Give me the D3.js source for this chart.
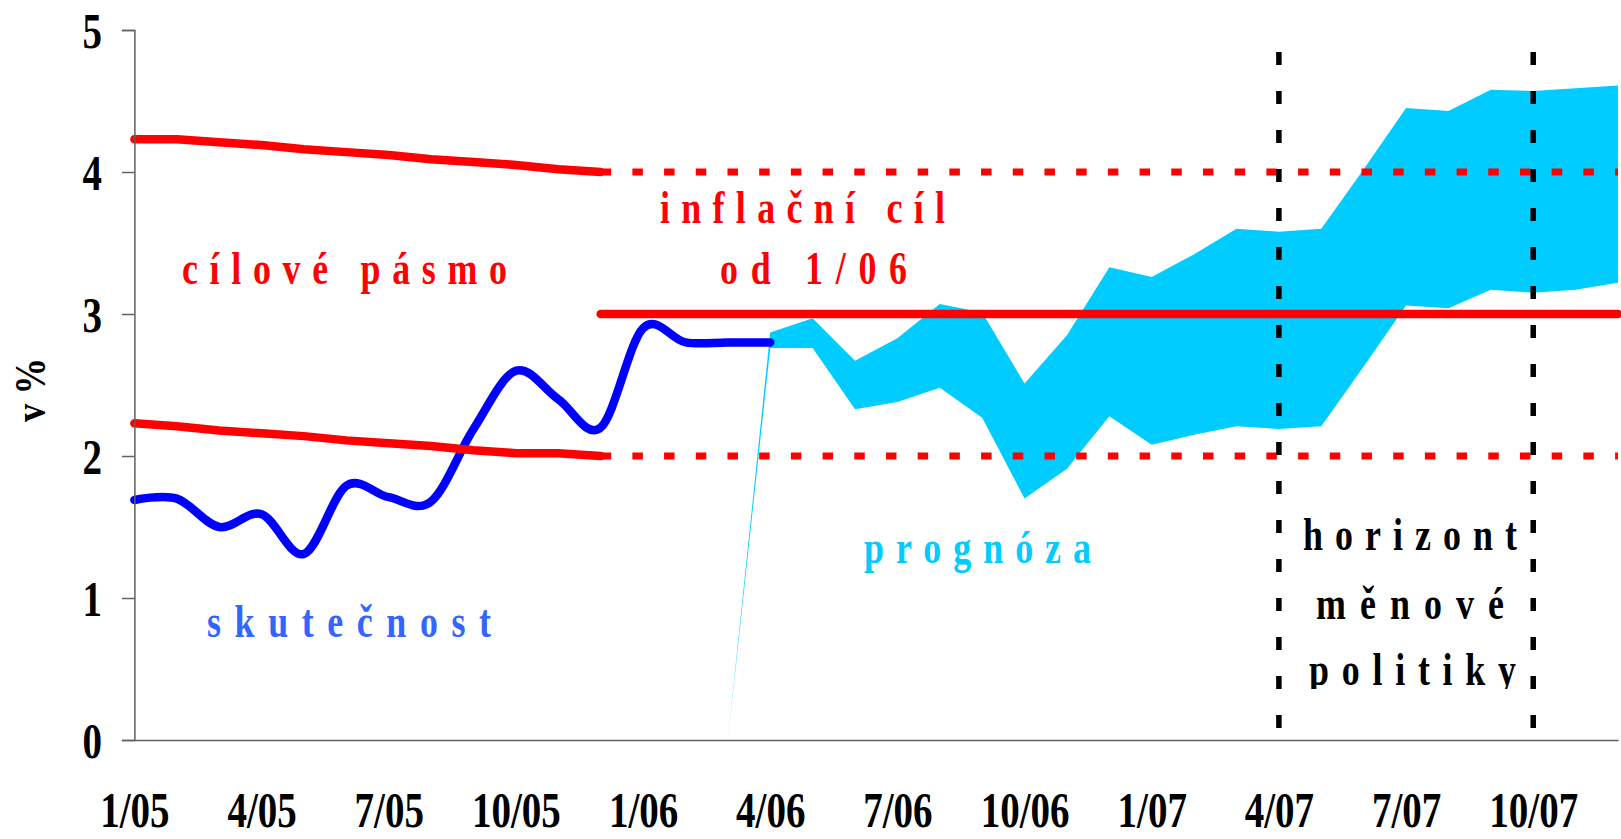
<!DOCTYPE html>
<html>
<head>
<meta charset="utf-8">
<script src="https://cdn.jsdelivr.net/npm/d3@7"></script>
<style>
  body { margin: 0; background: #fff; }
  svg { display: block; }
  text { font-family: "Liberation Serif", "Times New Roman", serif; font-weight: bold; }
</style>
</head>
<body>
<svg id="chart" width="1621" height="839"></svg>
<script>
// -- months on the x axis, 1/05 .. 12/07 -- //
let months = [
  "1/05", "2/05", "3/05", "4/05", "5/05", "6/05", "7/05", "8/05", "9/05", "10/05", "11/05", "12/05",
  "1/06", "2/06", "3/06", "4/06", "5/06", "6/06", "7/06", "8/06", "9/06", "10/06", "11/06", "12/06",
  "1/07", "2/07", "3/07", "4/07", "5/07", "6/07", "7/07", "8/07", "9/07", "10/07", "11/07", "12/07"
];
let tickMonths = ["1/05", "4/05", "7/05", "10/05", "1/06", "4/06", "7/06", "10/06", "1/07", "4/07", "7/07", "10/07"];
let yTicks = [0, 1, 2, 3, 4, 5];

// -- skutečnost (actual), 1/05 .. 4/06 -- //
let actual = [1.69, 1.70, 1.50, 1.59, 1.31, 1.79, 1.71, 1.68, 2.19, 2.60, 2.40, 2.20, 2.90, 2.80, 2.80, 2.80];

// -- cílové pásmo 2005, 1/05 .. 12/05 -- //
let bandUpper2005 = [4.23, 4.23, 4.21, 4.19, 4.16, 4.14, 4.12, 4.09, 4.07, 4.05, 4.02, 4.00];
let bandLower2005 = [2.23, 2.21, 2.18, 2.16, 2.14, 2.11, 2.09, 2.07, 2.04, 2.02, 2.02, 2.00];

// -- inflační cíl od 1/06 (+- 1 p.b.) -- //
let targetStart = "12/05";
let targetValue = 3;
let targetTolerance = [2, 4];

// -- prognóza band, 3/06 .. 12/07 -- //
let forecastStart = "3/06";
let forecastLow  = [0, 2.76, 2.76, 2.33, 2.38, 2.48, 2.27, 1.70, 1.91, 2.28, 2.08, 2.15, 2.21, 2.19, 2.21, 2.63, 3.06, 3.04, 3.17, 3.15, 3.17, 3.22];
let forecastHigh = [0, 2.87, 2.97, 2.67, 2.83, 3.07, 3.01, 2.51, 2.85, 3.33, 3.26, 3.42, 3.60, 3.58, 3.60, 4.02, 4.45, 4.43, 4.58, 4.57, 4.59, 4.61];

// -- horizont měnové politiky -- //
let horizonMonths = ["4/07", "10/07"];

// -- colours -- //
let red = "#ff0000", blue = "#0000ff", cyan = "#00ccff";

let svg = d3.select("#chart");
let sx = 0.78; // condensed look of the bold serif

let x = d3.scalePoint().domain(months).range([134.4, 1618]);
let y = d3.scaleLinear().domain([0, 5]).range([740, 30]);

let plot = svg.append("g");

// -- forecast band -- //
let f0 = months.indexOf(forecastStart);
let band = forecastLow.map((lo, i) => ({ m: months[f0 + i], lo: lo, hi: forecastHigh[i] }));
plot.append("path")
    .datum(band)
    .attr("d", d3.area().x(d => x(d.m)).y0(d => y(d.lo)).y1(d => y(d.hi)))
    .style("fill", cyan);

// -- actual line -- //
plot.append("path")
    .datum(actual)
    .attr("d", d3.line().x((d, i) => x(months[i])).y(d => y(d)).curve(d3.curveCardinal.tension(0)))
    .style("fill", "none")
    .style("stroke", blue)
    .style("stroke-width", 8.5)
    .style("stroke-linecap", "round")
    .style("stroke-linejoin", "round");

// -- 2005 band (solid) -- //
[bandUpper2005, bandLower2005].forEach(s => {
    plot.append("path")
        .datum(s)
        .attr("d", d3.line().x((d, i) => x(months[i])).y(d => y(d)))
        .style("fill", "none")
        .style("stroke", red)
        .style("stroke-width", 8.5)
        .style("stroke-linecap", "round")
        .style("stroke-linejoin", "round");
});

// -- tolerance band from 12/05 (dotted) -- //
let xEnd = x(months[months.length - 1]);
targetTolerance.forEach(v => {
    plot.append("line")
        .attr("x1", x(targetStart)).attr("x2", xEnd)
        .attr("y1", y(v)).attr("y2", y(v))
        .style("stroke", red)
        .style("stroke-width", 7)
        .style("stroke-dasharray", "10.5,21.2");
});

// -- target line -- //
plot.append("line")
    .attr("x1", x(targetStart)).attr("x2", xEnd)
    .attr("y1", y(targetValue)).attr("y2", y(targetValue))
    .style("stroke", red)
    .style("stroke-width", 8.5)
    .style("stroke-linecap", "round");

// -- horizon markers -- //
plot.selectAll(".horizon")
    .data(horizonMonths)
    .enter()
    .append("line")
    .attr("class", "horizon")
    .attr("x1", d => x(d)).attr("x2", d => x(d))
    .attr("y1", 52).attr("y2", y(0))
    .style("stroke", "#000")
    .style("stroke-width", 5.5)
    .style("stroke-dasharray", "13,26");

// -- axes -- //
let yAxis = d3.axisLeft(y).tickValues(yTicks).tickFormat(d3.format("d")).tickSize(12.5).tickPadding(20);
let yG = svg.append("g").attr("transform", `translate(${x(months[0])},0)`).call(yAxis);
yG.selectAll("text")
    .attr("x", -32.5 / sx)
    .attr("dy", "0.34em")
    .attr("transform", `scale(${sx},1)`)
    .style("font-size", "50px")
    .style("fill", "#000");

let xAxis = d3.axisBottom(x).tickValues(tickMonths).tickSize(0).tickSizeOuter(0).tickPadding(52);
let xG = svg.append("g").attr("transform", `translate(0,${y(0)})`).call(xAxis);
xG.selectAll("text")
    .attr("transform", `scale(${sx},1)`)
    .style("font-size", "50px")
    .style("fill", "#000");

[yG, xG].forEach(g => {
    g.select(".domain").style("stroke", "#606060").style("stroke-width", 1.5);
    g.selectAll(".tick line").style("stroke", "#606060").style("stroke-width", 1.5);
    g.attr("font-family", null).attr("font-size", null);
});

// -- y axis title -- //
svg.append("text")
    .attr("transform", `translate(45,422) rotate(-90)`)
    .attr("textLength", 64)
    .attr("lengthAdjust", "spacingAndGlyphs")
    .style("font-size", "44px")
    .text("v %");

// -- annotations -- //
let notes = [
    { text: "cílové pásmo", color: red, x0: 182, x1: 507, base: 284 },
    { text: "inflační cíl", color: red, x0: 660, x1: 945, base: 223 },
    { text: "od 1/06", color: red, x0: 720, x1: 907, base: 284 },
    { text: "skutečnost", color: "#3366ff", x0: 207, x1: 491, base: 637 },
    { text: "prognóza", color: cyan, x0: 864, x1: 1091, base: 563 },
    { text: "horizont", color: "#000", x0: 1303, x1: 1517, base: 550 },
    { text: "měnové", color: "#000", x0: 1316, x1: 1504, base: 619 },
    { text: "politiky", color: "#000", x0: 1309, x1: 1516, base: 685 }
];

svg.append("clipPath").attr("id", "noteClip")
    .append("rect").attr("x", 0).attr("y", 0).attr("width", 1621).attr("height", 689);

svg.append("g")
    .attr("clip-path", "url(#noteClip)")
    .selectAll("text")
    .data(notes)
    .enter()
    .append("text")
    .attr("transform", d => `translate(${d.x0},${d.base}) scale(${sx},1)`)
    .attr("textLength", d => (d.x1 - d.x0) / sx)
    .attr("lengthAdjust", "spacing")
    .style("font-size", "46px")
    .style("fill", d => d.color)
    .text(d => d.text);
</script>
</body>
</html>
